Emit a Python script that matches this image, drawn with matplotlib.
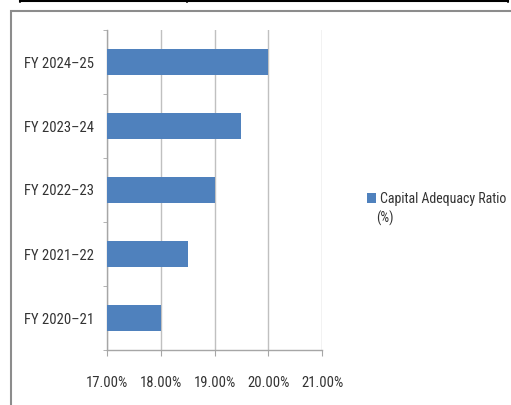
import matplotlib.pyplot as plt
from matplotlib.patches import Rectangle
from matplotlib.lines import Line2D

# Capital adequacy ratio by financial year
years = ["FY 2020\u201321", "FY 2021\u201322", "FY 2022\u201323", "FY 2023\u201324", "FY 2024\u201325"]
car_values = [18.0, 18.5, 19.0, 19.5, 20.0]
x_ticks = [17, 18, 19, 20, 21]
x_tick_labels = ["17.00%", "18.00%", "19.00%", "20.00%", "21.00%"]
series_name = "Capital Adequacy Ratio"

plt.rcParams["font.family"] = ["Roboto Condensed", "Lato", "DejaVu Sans"]
text_color = "#333333"
bar_color = "#4f81bd"

W, H = 511, 405
fig = plt.figure(figsize=(W / 100, H / 100), dpi=100)
ax = fig.add_axes([107 / W, 1 - 350 / H, 215 / W, 320 / H])

bars = ax.barh(range(len(years)), car_values, height=0.42, color=bar_color,
               label=series_name, zorder=3)
ax.set_xlim(17, 21)
ax.set_ylim(-0.5, len(years) - 0.5)
ax.set_xticks(x_ticks)
ax.set_xticklabels(x_tick_labels)
ax.set_yticks(range(len(years)))
ax.set_yticklabels(years)

# category separators as minor ticks on the value axis
ax.set_yticks([i + 0.5 for i in range(-1, len(years))], minor=True)
ax.tick_params(axis="y", which="major", length=0, pad=9, labelsize=10.5, labelcolor=text_color)
ax.tick_params(axis="y", which="minor", length=3, color="#a6a6a6", direction="out")
ax.tick_params(axis="x", length=4, color="#a6a6a6", pad=15, labelsize=10.5, labelcolor=text_color)

ax.grid(axis="x", color="#c0c0c0", linewidth=1, zorder=0)
for side in ["top", "right"]:
    ax.spines[side].set_visible(False)
for side in ["left", "bottom"]:
    ax.spines[side].set_color("#a6a6a6")
    ax.spines[side].set_linewidth(1)

# legend on the right
ax.legend(loc="upper left", bbox_to_anchor=(367 / W, 1 - 192 / H), bbox_transform=fig.transFigure,
          frameon=False, fontsize=10, handlelength=0.65, handleheight=0.65, handletextpad=0.25,
          borderaxespad=0, borderpad=0, labelcolor=text_color)
fig.text(376 / W, 1 - 218 / H, "(%)", fontsize=10, color=text_color, va="center", ha="left")

# chart border
fig.patches.append(Rectangle((11 / W, -0.1), 1.2, 1 - 11 / H + 0.1, transform=fig.transFigure,
                             fill=False, edgecolor="#8c8c8c", linewidth=1.5))

# bottom edge of the table above
fig.lines.append(Line2D([20 / W, 508 / W], [1 - 1 / H, 1 - 1 / H], transform=fig.transFigure,
                        color="black", linewidth=1.5))
for xv in [20, 187, 508]:
    fig.lines.append(Line2D([xv / W, xv / W], [1 - 2 / H, 1.01], transform=fig.transFigure,
                            color="black", linewidth=1.2))

fig.savefig("out.png", dpi=100)
